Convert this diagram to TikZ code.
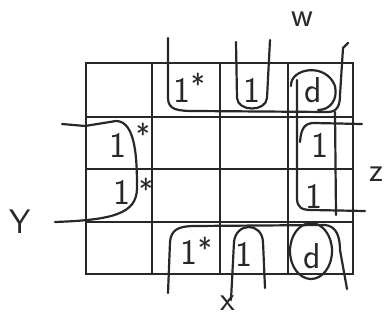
\documentclass[tikz,border=0pt]{standalone}
\usepackage{tikz}
\usetikzlibrary{positioning,calc}
\definecolor{ink}{RGB}{40,40,40}

\begin{document}
\begin{tikzpicture}[x=1pt,y=-1pt,font=\sffamily\fontsize{36}{38}\selectfont,
  grid/.style={draw=ink,line width=1.8pt},
  loop/.style={draw=ink,line width=2.2pt,line cap=round,line join=round},
  entry/.style={text=ink,inner sep=0pt},
  star/.style={text=ink,inner sep=0pt,font=\sffamily\fontsize{30}{32}\selectfont},
  var/.style={text=ink,inner sep=0pt,font=\sffamily\fontsize{34}{36}\selectfont}]
\useasboundingbox (0,0) rectangle (388,326);
% map grid
\draw[grid] (86,63) rectangle (353,274);
\foreach \cx in {152,220,288} \draw[grid] (\cx,63) -- (\cx,274);
\foreach \ry in {117,169,222} \draw[grid] (86,\ry) -- (353,\ry);
% top row
\node[entry] (t1) at (182,90) {1};
\node[star]  (t1s) at (198,84) {*};
\node[entry] (t2) at (252,90) {1};
\node[entry] (t3) at (313,90) {d};
% left column
\node[entry] (l1) at (118,145) {1};
\node[star]  (l1s) at (143,134) {*};
\node[entry] (l2) at (122,192) {1};
\node[star]  (l2s) at (146,189) {*};
% right column
\node[entry] (r1) at (320,145) {1};
\node[entry] (r2) at (314,196) {1};
% bottom row
\node[entry] (b1) at (189,252) {1};
\node[star]  (b1s) at (205,248) {*};
\node[entry] (b2) at (244,254) {1};
\node[entry] (b3) at (312,256) {d};
% variable names
\node[var] (W) at (302,19) {w};
\node[var] (Z) at (376,174) {z};
\node[var] (Y) at (20,222) {Y};
\node[var] (X) at (228,303) {x};
% groups along the top
\draw[loop] (168,38) -- (168,98) .. controls (168,110) and (178,111) .. (195,111)
  -- (328,112) .. controls (338,112) and (340,104) .. (340,95) -- (343,48) -- (348,43);
\draw[loop] (236,42) -- (237,98) .. controls (238,112) and (266,112) .. (267,98) -- (270,40);
\draw[loop] (291,86) .. controls (290,68) and (326,62) .. (335,86)
  .. controls (338,100) and (330,110) .. (318,110);
% group on the left
\draw[loop] (62,124) -- (85,126) -- (116,121) .. controls (136,121) and (137,160) .. (137,188)
  .. controls (137,214) and (112,220) .. (55,222);
% group on the right
\draw[loop] (297,80) -- (297,198) .. controls (297,208) and (302,210) .. (312,210) -- (365,211);
\draw[loop] (300,142) .. controls (301,128) and (305,123) .. (314,123) -- (362,124);
\draw[loop] (335,112) -- (336,215);
% groups along the bottom
\draw[loop] (168,293) -- (170,242) .. controls (171,230) and (178,226) .. (195,226)
  -- (325,225) .. controls (336,226) and (340,236) .. (340,250) -- (347,289);
\draw[loop] (231,300) -- (234,242) .. controls (236,222) and (262,222) .. (263,242) -- (265,288);
\draw[loop] (311,251) ellipse (21 and 28);
\end{tikzpicture}
\end{document}
